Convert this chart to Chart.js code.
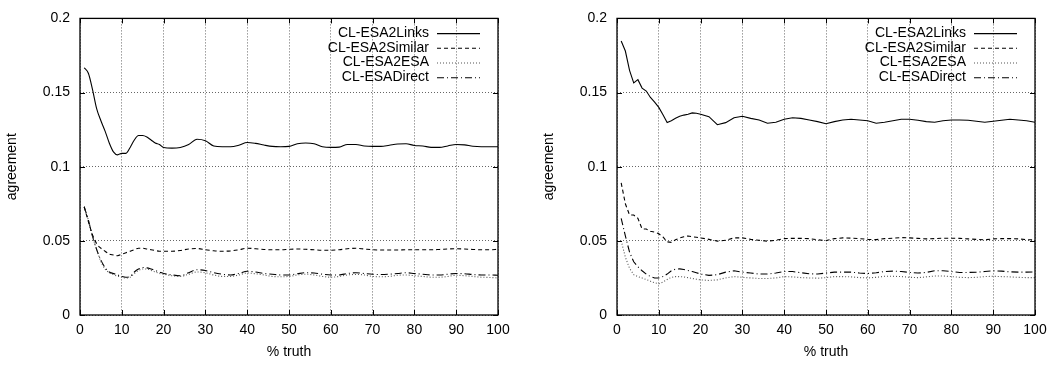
<!DOCTYPE html>
<html>
<head>
<meta charset="utf-8">
<script src="https://cdn.jsdelivr.net/npm/chart.js@4"></script>
<style>
  html, body { margin: 0; padding: 0; background: #fff; }
  .wrap { position: relative; width: 1059px; height: 365px; }
  canvas { position: absolute; top: 0; }
</style>
</head>
<body>
<div class="wrap">
  <canvas id="leftChart" width="530" height="365" style="left:0"></canvas>
  <canvas id="rightChart" width="529" height="365" style="left:530px"></canvas>
</div>
<script>
const truth = [1,2,3,4,5,6,7,8,9,10,11,12,13,14,15,16,17,18,19,20,
  22,24,26,28,30,32,34,36,38,40,42,44,46,48,50,52,54,56,58,60,
  62,64,66,68,70,72,74,76,78,80,82,84,86,88,90,92,94,96,98,100];
const xTicks = [0,10,20,30,40,50,60,70,80,90,100];
const yTicks = [0,0.05,0.1,0.15,0.2];
const seriesNames = ['CL-ESA2Links','CL-ESA2Similar','CL-ESA2ESA','CL-ESADirect'];

// left panel
const leftLinks = [0.1667,0.163,0.152,0.139,0.131,0.124,0.116,0.110,0.108,0.109,0.109,0.113,0.118,0.121,0.121,0.120,0.118,0.116,0.115,0.113,
  0.1125,0.113,0.115,0.1185,0.1175,0.114,0.1135,0.1135,0.1145,0.1163,
  0.1157,0.1146,0.1137,0.1135,0.1137,0.1155,0.116,0.1155,0.1135,0.113,
  0.1132,0.115,0.115,0.114,0.1137,0.1137,0.1145,0.1153,0.1155,0.1143,
  0.114,0.113,0.113,0.114,0.115,0.1147,0.1138,0.1135,0.1135,0.1135];
const leftSimilar = [0.073,0.063,0.054,0.048,0.045,0.043,0.041,0.0405,0.040,0.041,0.042,0.043,0.044,0.045,0.045,0.0445,0.044,0.0435,0.043,0.043,
  0.043,0.0435,0.0445,0.0448,0.044,0.0433,0.043,0.0432,0.044,0.045,
  0.0447,0.0442,0.044,0.044,0.0443,0.0445,0.0443,0.044,0.0437,0.0437,
  0.044,0.0447,0.045,0.0445,0.044,0.0438,0.0438,0.0438,0.044,0.044,
  0.044,0.044,0.0442,0.0445,0.0447,0.0445,0.0442,0.044,0.044,0.0443];
const leftEsa = [0.073,0.064,0.053,0.044,0.036,0.031,0.0285,0.0272,0.0262,0.0255,0.025,0.0255,0.028,0.030,0.031,0.031,0.030,0.029,0.028,0.0275,
  0.0265,0.026,0.0275,0.029,0.0285,0.027,0.026,0.026,0.027,0.0283,
  0.0278,0.027,0.026,0.0258,0.026,0.027,0.0275,0.027,0.026,0.0255,
  0.026,0.027,0.0273,0.027,0.026,0.0258,0.026,0.0268,0.027,0.0265,
  0.026,0.0255,0.0255,0.026,0.0268,0.0265,0.026,0.0255,0.0253,0.025];
const leftDirect = [0.073,0.064,0.053,0.044,0.037,0.032,0.029,0.028,0.027,0.026,0.0255,0.026,0.029,0.031,0.032,0.0318,0.031,0.030,0.029,0.028,
  0.027,0.0265,0.0285,0.0305,0.030,0.0285,0.0275,0.027,0.028,0.0295,
  0.029,0.028,0.0275,0.027,0.027,0.0278,0.0285,0.0283,0.0275,0.027,
  0.027,0.028,0.0285,0.028,0.0275,0.0273,0.0275,0.028,0.0285,0.028,
  0.0275,0.027,0.027,0.0275,0.028,0.0278,0.0273,0.027,0.027,0.0268];

// right panel
const rightLinks = [0.1848,0.178,0.165,0.1565,0.1587,0.153,0.151,0.1467,0.1435,0.140,0.135,0.1298,0.131,0.1326,0.134,0.1348,0.1354,0.1363,0.136,0.1354,
  0.1337,0.1283,0.1297,0.133,0.134,0.1326,0.1315,0.1293,0.130,0.132,
  0.133,0.1326,0.1315,0.1304,0.129,0.1304,0.1315,0.132,0.1315,0.131,
  0.1293,0.130,0.131,0.132,0.132,0.1313,0.1304,0.130,0.131,0.1315,
  0.1315,0.1313,0.1306,0.130,0.1306,0.1313,0.132,0.1315,0.131,0.130];
const rightSimilar = [0.0891,0.075,0.0674,0.0674,0.0652,0.058,0.058,0.0565,0.0559,0.0548,0.0526,0.0493,0.049,0.0507,0.052,0.0528,0.0533,0.0528,0.0524,0.052,
  0.051,0.0498,0.0504,0.052,0.052,0.051,0.0504,0.0498,0.0504,0.0515,
  0.0517,0.0517,0.0515,0.0507,0.0502,0.0515,0.052,0.0518,0.0515,0.051,
  0.0508,0.0515,0.0518,0.0522,0.052,0.0517,0.0513,0.0515,0.0518,0.0518,
  0.0517,0.0513,0.051,0.0507,0.0513,0.0515,0.0515,0.0513,0.0508,0.0507];
const rightEsa = [0.050,0.039,0.0315,0.0272,0.0259,0.025,0.0239,0.0228,0.0217,0.0211,0.0222,0.0239,0.0254,0.0259,0.0259,0.0257,0.0252,0.0246,0.0241,0.0237,
  0.0233,0.0237,0.025,0.0259,0.0254,0.025,0.0246,0.0246,0.025,0.0259,
  0.0257,0.0252,0.025,0.0248,0.0252,0.0259,0.0259,0.0257,0.0252,0.025,
  0.0254,0.0261,0.0261,0.0259,0.0254,0.0252,0.0257,0.0263,0.0263,0.0259,
  0.0254,0.0252,0.0254,0.0259,0.0261,0.0259,0.0257,0.0254,0.0252,0.0252];
const rightDirect = [0.0652,0.0533,0.0424,0.0359,0.0326,0.0298,0.0276,0.0259,0.025,0.025,0.0259,0.0276,0.0298,0.0309,0.0311,0.0307,0.030,0.0293,0.0285,0.0276,
  0.0267,0.0272,0.0289,0.0298,0.0289,0.0283,0.0276,0.0276,0.0283,0.0293,
  0.0293,0.0285,0.0278,0.0276,0.0283,0.0289,0.0289,0.0289,0.0283,0.028,
  0.0285,0.0293,0.0296,0.0293,0.0287,0.0283,0.0287,0.0298,0.0298,0.0293,
  0.0287,0.0287,0.0289,0.0293,0.0298,0.0296,0.0291,0.0289,0.0289,0.0291];

const lineStyles = [
  { dash: [], color: '#000' },
  { dash: [4, 3], color: '#000' },
  { dash: [1, 2], color: '#555' },
  { dash: [7, 3, 1, 3], color: '#000' }
];
const FONT = "'Liberation Sans', Arial, Helvetica, sans-serif";

// gnuplot-like frame, inward ticks and key
const framePlugin = {
  id: 'frame',
  afterDraw(chart) {
    const { ctx, chartArea: a, scales: { x, y } } = chart;
    ctx.save();
    ctx.strokeStyle = '#000';
    ctx.lineWidth = 1.3;
    ctx.setLineDash([]);
    ctx.strokeRect(a.left, a.top, a.right - a.left, a.bottom - a.top);
    ctx.beginPath();
    xTicks.forEach(v => {
      const px = Math.round(x.getPixelForValue(v)) + 0.5;
      ctx.moveTo(px, a.bottom); ctx.lineTo(px, a.bottom - 5);
      ctx.moveTo(px, a.top); ctx.lineTo(px, a.top + 5);
    });
    yTicks.forEach(v => {
      const py = Math.round(y.getPixelForValue(v)) + 0.5;
      ctx.moveTo(a.left, py); ctx.lineTo(a.left + 5, py);
      ctx.moveTo(a.right, py); ctx.lineTo(a.right - 5, py);
    });
    ctx.lineWidth = 1;
    ctx.stroke();

    ctx.font = '14px ' + FONT;
    ctx.textAlign = 'right';
    ctx.textBaseline = 'middle';
    chart.data.datasets.forEach((ds, i) => {
      const ty = a.top + 14.7 * (i + 1);
      ctx.fillStyle = '#000';
      ctx.fillText(ds.label, a.right - 69, ty);
      ctx.beginPath();
      ctx.strokeStyle = ds.borderColor;
      ctx.lineWidth = ds.borderWidth;
      ctx.setLineDash(ds.borderDash);
      ctx.moveTo(a.right - 61, ty + 0.5);
      ctx.lineTo(a.right - 18, ty + 0.5);
      ctx.stroke();
    });
    ctx.restore();
  }
};

function makeChart(id, values, padLeft, padRight, tension) {
  const datasets = values.map((vals, i) => ({
    label: seriesNames[i],
    data: vals.map((v, k) => ({ x: truth[k], y: v })),
    borderColor: lineStyles[i].color,
    borderDash: lineStyles[i].dash,
    borderWidth: 1.1,
    pointRadius: 0,
    tension: tension,
    cubicInterpolationMode: tension ? 'monotone' : 'default',
    fill: false
  }));
  return new Chart(document.getElementById(id), {
    type: 'line',
    data: { datasets },
    options: {
      responsive: false,
      animation: false,
      devicePixelRatio: 1,
      layout: { padding: { left: padLeft, right: padRight, top: 8, bottom: 0 } },
      plugins: { legend: { display: false }, tooltip: { enabled: false } },
      scales: {
        x: {
          type: 'linear', min: 0, max: 100,
          afterFit(scale) { scale.height = 50; },
          afterBuildTicks(scale) { scale.ticks = xTicks.map(v => ({ value: v })); },
          ticks: { color: '#000', padding: 7, font: { size: 14, family: FONT }, maxRotation: 0 },
          grid: { color: '#666', lineWidth: 1, drawTicks: false },
          border: { display: false, dash: [1, 2] },
          title: { display: true, text: '% truth', color: '#000', font: { size: 14, family: FONT } }
        },
        y: {
          type: 'linear', min: 0, max: 0.2,
          afterFit(scale) { scale.width = 80; },
          afterBuildTicks(scale) { scale.ticks = yTicks.map(v => ({ value: v })); },
          ticks: { color: '#000', padding: 10, font: { size: 14, family: FONT },
            callback: v => String(+v.toFixed(2)) },
          grid: { color: '#666', lineWidth: 1, drawTicks: false },
          border: { display: false, dash: [1, 2] },
          title: { display: true, text: 'agreement', color: '#000', font: { size: 14, family: FONT } }
        }
      }
    },
    plugins: [framePlugin]
  });
}

makeChart('leftChart', [leftLinks, leftSimilar, leftEsa, leftDirect], 0, 32, 0.4);
makeChart('rightChart', [rightLinks, rightSimilar, rightEsa, rightDirect], 7, 24, 0);
</script>
</body>
</html>
